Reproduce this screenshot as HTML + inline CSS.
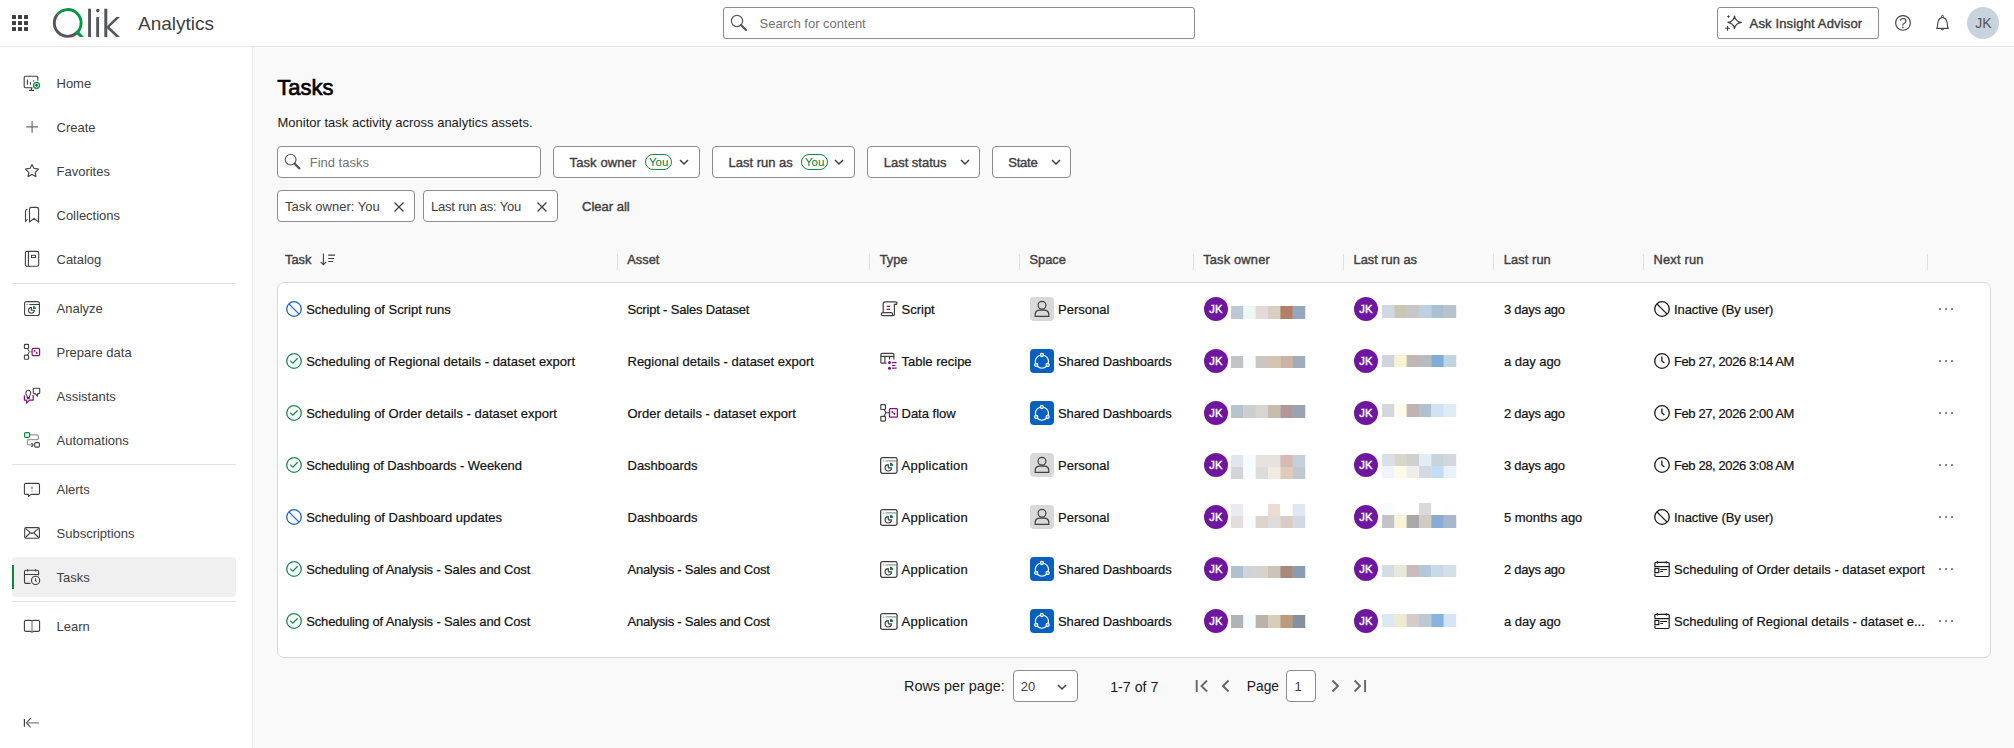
<!DOCTYPE html>
<html><head><meta charset="utf-8"><style>
html,body{margin:0;padding:0;width:2014px;height:748px;overflow:hidden;background:#f9f9f9;}
body{font-family:"Liberation Sans", sans-serif;position:relative;}
.a{position:absolute;box-sizing:content-box;}
.t{position:absolute;white-space:nowrap;}
.d{-webkit-text-stroke:0.2px currentColor;}
.sb{-webkit-text-stroke:0.4px currentColor;}
.sbt{-webkit-text-stroke:0.65px currentColor;}
svg.a{overflow:visible;}
</style></head><body>
<div class="a" style="left:0px;top:0px;width:2014px;height:46px;background:#fff;"></div>
<div class="a" style="left:0px;top:46px;width:2014px;height:1px;background:#e6e6e6;"></div>
<svg class="a" style="left:0px;top:0px;" width="40" height="46" viewBox="0 0 40 46"><rect x="12" y="15" width="4" height="4" rx="0.5" fill="#404040"/><rect x="12" y="21" width="4" height="4" rx="0.5" fill="#404040"/><rect x="12" y="27" width="4" height="4" rx="0.5" fill="#404040"/><rect x="18" y="15" width="4" height="4" rx="0.5" fill="#404040"/><rect x="18" y="21" width="4" height="4" rx="0.5" fill="#404040"/><rect x="18" y="27" width="4" height="4" rx="0.5" fill="#404040"/><rect x="24" y="15" width="4" height="4" rx="0.5" fill="#404040"/><rect x="24" y="21" width="4" height="4" rx="0.5" fill="#404040"/><rect x="24" y="27" width="4" height="4" rx="0.5" fill="#404040"/></svg>
<svg class="a" style="left:0px;top:0px;" width="130" height="46" viewBox="0 0 130 46">
<path d="M57.4 14.4 A13.4 13.4 0 0 0 76.7 32.9" fill="none" stroke="#54565b" stroke-width="2.9"/>
<path d="M57.4 14.4 A13.4 13.4 0 1 1 76.7 32.9" fill="none" stroke="#009845" stroke-width="2.9"/>
<path d="M74.6 32.4 L77.4 29.9 L83.9 37.1 L79.9 37.1 Z" fill="#009845"/>
<rect x="88.1" y="8.7" width="2.9" height="28.4" fill="#54565b"/>
<rect x="96.2" y="17.1" width="2.9" height="20" fill="#54565b"/>
<circle cx="97.8" cy="10.6" r="1.8" fill="#54565b"/>
<rect x="104.3" y="8.7" width="3" height="28.4" fill="#54565b"/>
<path d="M107 26.2 L116.3 17.1 L120 17.1 L109.5 27 L120 37.1 L116.2 37.1 L107 28.2 Z" fill="#54565b"/>
</svg>
<div class="t " style="left:138px;top:11.02px;font-size:19px;line-height:25px;color:#404040;">Analytics</div>
<div class="a" style="left:723px;top:7px;width:470px;height:30px;border:1px solid #8c8c8c;border-radius:3px;background:#fff;"></div>
<svg class="a" style="left:729px;top:13px;" width="20" height="20" viewBox="0 0 20 20"><circle cx="8" cy="8" r="5.6" fill="none" stroke="#595959" stroke-width="1.2"/><path d="M12 12 L17 17" stroke="#595959" stroke-width="2.2" stroke-linecap="round"/></svg>
<div class="t " style="left:759.5px;top:15.30px;font-size:13px;line-height:17px;color:#737373;">Search for content</div>
<div class="a" style="left:1717px;top:7px;width:160px;height:30px;border:1px solid #8c8c8c;border-radius:3px;background:#fff;"></div>
<svg class="a" style="left:1723px;top:12px;" width="22" height="22" viewBox="0 0 22 22"><path d="M11.5 4.1 Q12.4 9.5 18.4 10.4 Q12.4 11.3 11.5 16.6 Q10.6 11.3 4.9 10.4 Q10.6 9.5 11.5 4.1 Z" fill="none" stroke="#404040" stroke-width="1.15" stroke-linejoin="round"/><path d="M5.5 3 L6.1 4 L7.1 4.6 L6.1 5.2 L5.5 6.2 L4.9 5.2 L3.9 4.6 L4.9 4 Z" fill="#404040"/><path d="M4.6 13.9 V18.7 M2.2 16.3 H7" stroke="#404040" stroke-width="1.1"/></svg>
<div class="t sb" style="left:1749.6px;top:14.90px;font-size:13px;line-height:17px;color:#404040;letter-spacing:0.15px;">Ask Insight Advisor</div>
<svg class="a" style="left:1893px;top:13px;" width="20" height="20" viewBox="0 0 20 20"><circle cx="10" cy="9.9" r="7.35" fill="none" stroke="#404040" stroke-width="1.15"/><path d="M7.1 7.4 Q8 5.5 10.2 5.5 Q12.9 5.6 12.9 7.9 Q12.9 9.6 11 10.5 Q9.7 11.1 9.7 12.5" fill="none" stroke="#404040" stroke-width="1.2"/><circle cx="9.8" cy="14.3" r="0.85" fill="#404040"/></svg>
<svg class="a" style="left:1933px;top:13px;" width="20" height="20" viewBox="0 0 20 20"><circle cx="9.5" cy="3.4" r="1" fill="none" stroke="#404040" stroke-width="1"/><path d="M4.2 15 Q4.6 9.5 5.5 7.4 Q6.9 4.5 9.5 4.5 Q12.1 4.5 13.5 7.4 Q14.4 9.5 14.8 15" fill="none" stroke="#404040" stroke-width="1.1"/><path d="M3.2 15.4 H15.8" stroke="#404040" stroke-width="1.2"/><path d="M8.4 15.8 A1.1 1.1 0 0 0 10.6 15.8" fill="none" stroke="#404040" stroke-width="1"/></svg>
<div class="a" style="left:1967px;top:7px;width:32px;height:32px;border-radius:50%;background:#c9d3de;"></div>
<div class="t " style="left:1975.2px;top:14.37px;font-size:14px;line-height:18px;color:#555;">JK</div>
<div class="a" style="left:0px;top:47px;width:252px;height:701px;background:#fff;"></div>
<div class="a" style="left:252px;top:47px;width:1px;height:701px;background:#e6e6e6;"></div>
<div class="a" style="left:12px;top:557px;width:224px;height:40px;background:#f0f0f0;border-radius:4px;"></div>
<div class="a" style="left:12px;top:565px;width:2px;height:24px;background:#0a8a3e;"></div>
<div class="a" style="left:12px;top:283px;width:224px;height:1px;background:#e3e3e3;"></div>
<div class="a" style="left:12px;top:464px;width:224px;height:1px;background:#e3e3e3;"></div>
<div class="a" style="left:12px;top:601px;width:224px;height:1px;background:#e3e3e3;"></div>
<div class="t " style="left:56.5px;top:75.20px;font-size:13px;line-height:17px;color:#404040;">Home</div>
<div class="t " style="left:56.5px;top:119.20px;font-size:13px;line-height:17px;color:#404040;">Create</div>
<div class="t " style="left:56.5px;top:163.20px;font-size:13px;line-height:17px;color:#404040;">Favorites</div>
<div class="t " style="left:56.5px;top:207.20px;font-size:13px;line-height:17px;color:#404040;">Collections</div>
<div class="t " style="left:56.5px;top:251.20px;font-size:13px;line-height:17px;color:#404040;">Catalog</div>
<div class="t " style="left:56.5px;top:300.20px;font-size:13px;line-height:17px;color:#404040;">Analyze</div>
<div class="t " style="left:56.5px;top:344.20px;font-size:13px;line-height:17px;color:#404040;">Prepare data</div>
<div class="t " style="left:56.5px;top:388.20px;font-size:13px;line-height:17px;color:#404040;">Assistants</div>
<div class="t " style="left:56.5px;top:432.20px;font-size:13px;line-height:17px;color:#404040;">Automations</div>
<div class="t " style="left:56.5px;top:481.20px;font-size:13px;line-height:17px;color:#404040;">Alerts</div>
<div class="t " style="left:56.5px;top:525.20px;font-size:13px;line-height:17px;color:#404040;">Subscriptions</div>
<div class="t " style="left:56.5px;top:569.20px;font-size:13px;line-height:17px;color:#404040;">Tasks</div>
<div class="t " style="left:56.5px;top:618.20px;font-size:13px;line-height:17px;color:#404040;">Learn</div>
<div class="a" style="left:253px;top:47px;width:1761px;height:701px;background:#f9f9f9;"></div>
<div class="t sbt" style="left:277.2px;top:73.13px;font-size:22px;line-height:29px;color:#000;">Tasks</div>
<div class="t " style="left:277.5px;top:113.80px;font-size:13px;line-height:17px;color:#1a1a1a;">Monitor task activity across analytics assets.</div>
<div class="a" style="left:277px;top:146px;width:262px;height:30px;border:1px solid #8c8c8c;border-radius:4px;background:#fff;"></div>
<div class="t " style="left:309.7px;top:153.90px;font-size:13px;line-height:17px;color:#737373;">Find tasks</div>
<div class="a" style="left:553px;top:146px;width:145px;height:30px;border:1px solid #8c8c8c;border-radius:4px;background:#fff;"></div>
<div class="t sb" style="left:569.6px;top:153.90px;font-size:13px;line-height:17px;color:#404040;letter-spacing:0.1px;">Task owner</div>
<div class="a" style="left:645px;top:154px;width:25px;height:14px;border:1px solid #0a8a3e;border-radius:8px;"></div>
<div class="t " style="left:649px;top:155.00px;font-size:11.5px;line-height:15px;color:#0b7d3a;">You</div>
<svg class="a" style="left:679px;top:159px;" width="10" height="6" viewBox="0 0 10 6"><path d="M1 1 L5 5 L9 1" fill="none" stroke="#404040" stroke-width="1.5"/></svg>
<div class="a" style="left:712px;top:146px;width:141px;height:30px;border:1px solid #8c8c8c;border-radius:4px;background:#fff;"></div>
<div class="t sb" style="left:728.5px;top:153.90px;font-size:13px;line-height:17px;color:#404040;">Last run as</div>
<div class="a" style="left:801px;top:154px;width:25px;height:14px;border:1px solid #0a8a3e;border-radius:8px;"></div>
<div class="t " style="left:805px;top:155.00px;font-size:11.5px;line-height:15px;color:#0b7d3a;">You</div>
<svg class="a" style="left:834px;top:159px;" width="10" height="6" viewBox="0 0 10 6"><path d="M1 1 L5 5 L9 1" fill="none" stroke="#404040" stroke-width="1.5"/></svg>
<div class="a" style="left:867px;top:146px;width:111px;height:30px;border:1px solid #8c8c8c;border-radius:4px;background:#fff;"></div>
<div class="t sb" style="left:883.7px;top:153.90px;font-size:13px;line-height:17px;color:#404040;">Last status</div>
<svg class="a" style="left:959.5px;top:159px;" width="10" height="6" viewBox="0 0 10 6"><path d="M1 1 L5 5 L9 1" fill="none" stroke="#404040" stroke-width="1.5"/></svg>
<div class="a" style="left:992px;top:146px;width:77px;height:30px;border:1px solid #8c8c8c;border-radius:4px;background:#fff;"></div>
<div class="t sb" style="left:1008.2px;top:153.90px;font-size:13px;line-height:17px;color:#404040;letter-spacing:-0.2px;">State</div>
<svg class="a" style="left:1050.5px;top:159px;" width="10" height="6" viewBox="0 0 10 6"><path d="M1 1 L5 5 L9 1" fill="none" stroke="#404040" stroke-width="1.5"/></svg>
<div class="a" style="left:277px;top:190px;width:136px;height:30px;border:1px solid #8c8c8c;border-radius:4px;background:#fff;"></div>
<div class="t " style="left:285px;top:198.00px;font-size:13px;line-height:17px;color:#404040;">Task owner: You</div>
<svg class="a" style="left:393px;top:201px;" width="12" height="12" viewBox="0 0 12 12"><path d="M1.5 1.5 L10.5 10.5 M10.5 1.5 L1.5 10.5" stroke="#404040" stroke-width="1.3"/></svg>
<div class="a" style="left:423px;top:190px;width:133px;height:30px;border:1px solid #8c8c8c;border-radius:4px;background:#fff;"></div>
<div class="t " style="left:431px;top:198.00px;font-size:13px;line-height:17px;color:#404040;letter-spacing:-0.2px;">Last run as: You</div>
<svg class="a" style="left:536px;top:201px;" width="12" height="12" viewBox="0 0 12 12"><path d="M1.5 1.5 L10.5 10.5 M10.5 1.5 L1.5 10.5" stroke="#404040" stroke-width="1.3"/></svg>
<div class="t sb" style="left:582px;top:198.00px;font-size:13px;line-height:17px;color:#404040;">Clear all</div>
<div class="t sb" style="left:285px;top:251.17px;font-size:12.8px;line-height:17px;color:#404040;">Task</div>
<div class="t sb" style="left:627.3px;top:251.17px;font-size:12.8px;line-height:17px;color:#404040;">Asset</div>
<div class="t sb" style="left:879.7px;top:251.17px;font-size:12.8px;line-height:17px;color:#404040;">Type</div>
<div class="t sb" style="left:1029.5px;top:251.17px;font-size:12.8px;line-height:17px;color:#404040;">Space</div>
<div class="t sb" style="left:1203.2px;top:251.17px;font-size:12.8px;line-height:17px;color:#404040;letter-spacing:0.2px;">Task owner</div>
<div class="t sb" style="left:1353.6px;top:251.17px;font-size:12.8px;line-height:17px;color:#404040;">Last run as</div>
<div class="t sb" style="left:1503.8px;top:251.17px;font-size:12.8px;line-height:17px;color:#404040;letter-spacing:0.1px;">Last run</div>
<div class="t sb" style="left:1653.6px;top:251.17px;font-size:12.8px;line-height:17px;color:#404040;letter-spacing:0.2px;">Next run</div>
<div class="a" style="left:617px;top:254px;width:1px;height:16px;background:#e0e0e0;"></div>
<div class="a" style="left:869px;top:254px;width:1px;height:16px;background:#e0e0e0;"></div>
<div class="a" style="left:1019px;top:254px;width:1px;height:16px;background:#e0e0e0;"></div>
<div class="a" style="left:1193px;top:254px;width:1px;height:16px;background:#e0e0e0;"></div>
<div class="a" style="left:1343px;top:254px;width:1px;height:16px;background:#e0e0e0;"></div>
<div class="a" style="left:1493px;top:254px;width:1px;height:16px;background:#e0e0e0;"></div>
<div class="a" style="left:1643px;top:254px;width:1px;height:16px;background:#e0e0e0;"></div>
<div class="a" style="left:1927px;top:254px;width:1px;height:16px;background:#e0e0e0;"></div>
<svg class="a" style="left:318px;top:252px;" width="20" height="16" viewBox="0 0 20 16"><path d="M5.4 1.5 V12.6 M2.6 9.8 L5.4 12.6 L8.2 9.8" fill="none" stroke="#404040" stroke-width="1.1"/><path d="M10.2 3.1 h6.8 M10.2 6.5 h6 M10.2 9.5 h4.8" stroke="#404040" stroke-width="1.1"/></svg>
<div class="a" style="left:277px;top:282px;width:1712px;height:374px;border:1px solid #d9d9d9;border-radius:7px;background:#fff;"></div>
<svg class="a" style="left:286px;top:301px;" width="16" height="16" viewBox="0 0 16 16"><circle cx="8" cy="8" r="7.3" fill="none" stroke="#1f63c6" stroke-width="1.3"/><path d="M2.9 2.9 L13.1 13.1" stroke="#1f63c6" stroke-width="1.3"/></svg>
<div class="t d" style="left:306.2px;top:301.20px;font-size:13px;line-height:17px;color:#111;">Scheduling of Script runs</div>
<div class="t d" style="left:627.5px;top:301.20px;font-size:13px;line-height:17px;color:#111;letter-spacing:-0.18px;">Script - Sales Dataset</div>
<svg class="a" style="left:880px;top:300px;" width="18" height="18" viewBox="0 0 18 18"><path d="M3.2 12.7 V3.8 Q3.2 1.9 5 1.9 H15.3 Q17.3 1.9 17 3.3 Q16.7 4.4 14.4 4.4 V14.8 Q14.4 15.6 13 15.6 H3.5 Q1.3 15.6 1.3 14.2 Q1.3 12.7 3.2 12.7 H11.5 Q12.4 12.7 12.5 14.2 Q12.7 15.4 13.5 15.6" fill="none" stroke="#404040" stroke-width="1.2" stroke-linejoin="round"/><path d="M14.4 4.4 H17.2" stroke="#404040" stroke-width="1.1"/><path d="M6.7 6.4 H10.2 M6.7 9.4 H10.2" stroke="#8a0c7a" stroke-width="1.3"/></svg>
<div class="t d" style="left:901.5px;top:301.20px;font-size:13px;line-height:17px;color:#111;">Script</div>
<svg class="a" style="left:1030px;top:297px;" width="24" height="24" viewBox="0 0 24 24"><rect x="0" y="0" width="24" height="24" rx="4" fill="#d9d9d9"/><circle cx="12" cy="8.2" r="3.9" fill="none" stroke="#404040" stroke-width="1.2"/><path d="M5.2 19.4 V17.6 Q5.2 13.1 10 13.1 H14 Q18.8 13.1 18.8 17.6 V19.4 Z" fill="none" stroke="#404040" stroke-width="1.2"/></svg>
<div class="t d" style="left:1058px;top:301.20px;font-size:13px;line-height:17px;color:#111;">Personal</div>
<div class="a" style="left:1204px;top:297px;width:24px;height:24px;border-radius:50%;background:#6f16a0;"></div>
<div class="t sb" style="left:1209.3px;top:301.60px;font-size:11.2px;line-height:15px;color:#fff;letter-spacing:0.2px;">JK</div>
<div class="a" style="left:1354px;top:297px;width:24px;height:24px;border-radius:50%;background:#6f16a0;"></div>
<div class="t sb" style="left:1359.3px;top:301.60px;font-size:11.2px;line-height:15px;color:#fff;letter-spacing:0.2px;">JK</div>
<div class="t d" style="left:1504.1px;top:301.20px;font-size:13px;line-height:17px;color:#111;letter-spacing:-0.3px;">3 days ago</div>
<svg class="a" style="left:1654px;top:301px;" width="16" height="16" viewBox="0 0 16 16"><circle cx="8" cy="8" r="7.3" fill="none" stroke="#1a1a1a" stroke-width="1.3"/><path d="M2.9 2.9 L13.1 13.1" stroke="#1a1a1a" stroke-width="1.3"/></svg>
<div class="t d" style="left:1674px;top:301.20px;font-size:13px;line-height:17px;color:#111;letter-spacing:-0.1px;">Inactive (By user)</div>
<svg class="a" style="left:1938px;top:308px;" width="16" height="3" viewBox="0 0 16 3"><rect x="1" y="0" width="2" height="2" fill="#8a8a8a"/><rect x="7" y="0" width="2" height="2" fill="#8a8a8a"/><rect x="13" y="0" width="2" height="2" fill="#8a8a8a"/></svg>
<svg class="a" style="left:286px;top:353px;" width="16" height="16" viewBox="0 0 16 16"><circle cx="8" cy="8" r="7.3" fill="none" stroke="#1a8c4a" stroke-width="1.3"/><path d="M4.2 7.7 L6.9 10.2 L11.7 5.3" fill="none" stroke="#1a8c4a" stroke-width="1.3"/></svg>
<div class="t d" style="left:306.2px;top:353.20px;font-size:13px;line-height:17px;color:#111;">Scheduling of Regional details - dataset export</div>
<div class="t d" style="left:627.5px;top:353.20px;font-size:13px;line-height:17px;color:#111;">Regional details - dataset export</div>
<svg class="a" style="left:880px;top:352px;" width="18" height="18" viewBox="0 0 18 18"><path d="M6.5 11.1 H1.5 Q0.9 11.1 0.9 10.4 V2.4 Q0.9 1.3 2 1.3 H12.7 Q13.9 1.3 13.9 2.4 V7.5" fill="none" stroke="#404040" stroke-width="1.2"/><path d="M0.9 4.4 H13.9 M4.9 4.4 V11 M9.5 4.4 V7.5" stroke="#404040" stroke-width="1.2"/><circle cx="9.5" cy="10.6" r="1.5" fill="#8a0c7a"/><circle cx="9.5" cy="16.2" r="1.5" fill="#8a0c7a"/><path d="M12 10.6 H16.6 M12 13.5 H15.5 M12 16.2 H16.6" stroke="#8a0c7a" stroke-width="1.2"/></svg>
<div class="t d" style="left:901.5px;top:353.20px;font-size:13px;line-height:17px;color:#111;">Table recipe</div>
<svg class="a" style="left:1030px;top:349px;" width="24" height="24" viewBox="0 0 24 24"><rect x="0" y="0" width="24" height="24" rx="4" fill="#0660c0"/><circle cx="11.9" cy="12.6" r="6.6" fill="none" stroke="#fff" stroke-width="1.15"/><circle cx="11.9" cy="6" r="1.6" fill="#6f9bd6" stroke="#fff" stroke-width="1.1"/><circle cx="6.2" cy="15.9" r="1.6" fill="#6f9bd6" stroke="#fff" stroke-width="1.1"/><circle cx="17.6" cy="15.9" r="1.6" fill="#6f9bd6" stroke="#fff" stroke-width="1.1"/></svg>
<div class="t d" style="left:1058px;top:353.20px;font-size:13px;line-height:17px;color:#111;letter-spacing:-0.12px;">Shared Dashboards</div>
<div class="a" style="left:1204px;top:349px;width:24px;height:24px;border-radius:50%;background:#6f16a0;"></div>
<div class="t sb" style="left:1209.3px;top:353.60px;font-size:11.2px;line-height:15px;color:#fff;letter-spacing:0.2px;">JK</div>
<div class="a" style="left:1354px;top:349px;width:24px;height:24px;border-radius:50%;background:#6f16a0;"></div>
<div class="t sb" style="left:1359.3px;top:353.60px;font-size:11.2px;line-height:15px;color:#fff;letter-spacing:0.2px;">JK</div>
<div class="t d" style="left:1504.1px;top:353.20px;font-size:13px;line-height:17px;color:#111;letter-spacing:-0.05px;">a day ago</div>
<svg class="a" style="left:1654px;top:353px;" width="16" height="16" viewBox="0 0 16 16"><circle cx="8" cy="8" r="7.3" fill="none" stroke="#1a1a1a" stroke-width="1.3"/><path d="M7.9 3.6 V8 L10.4 10.1" fill="none" stroke="#1a1a1a" stroke-width="1.3"/></svg>
<div class="t d" style="left:1674px;top:353.20px;font-size:13px;line-height:17px;color:#111;letter-spacing:-0.4px;">Feb 27, 2026 8:14 AM</div>
<svg class="a" style="left:1938px;top:360px;" width="16" height="3" viewBox="0 0 16 3"><rect x="1" y="0" width="2" height="2" fill="#8a8a8a"/><rect x="7" y="0" width="2" height="2" fill="#8a8a8a"/><rect x="13" y="0" width="2" height="2" fill="#8a8a8a"/></svg>
<svg class="a" style="left:286px;top:405px;" width="16" height="16" viewBox="0 0 16 16"><circle cx="8" cy="8" r="7.3" fill="none" stroke="#1a8c4a" stroke-width="1.3"/><path d="M4.2 7.7 L6.9 10.2 L11.7 5.3" fill="none" stroke="#1a8c4a" stroke-width="1.3"/></svg>
<div class="t d" style="left:306.2px;top:405.20px;font-size:13px;line-height:17px;color:#111;">Scheduling of Order details - dataset export</div>
<div class="t d" style="left:627.5px;top:405.20px;font-size:13px;line-height:17px;color:#111;">Order details - dataset export</div>
<svg class="a" style="left:880px;top:404px;" width="18" height="18" viewBox="0 0 18 18"><rect x="0.8" y="0.7" width="4.6" height="4.8" rx="0.8" fill="none" stroke="#404040" stroke-width="1.2"/><rect x="0.8" y="12.3" width="4.6" height="4.8" rx="0.8" fill="none" stroke="#404040" stroke-width="1.2"/><path d="M4.3 5.5 L5.8 8.7 L4.3 12.3 M5.8 8.7 H9.2" fill="none" stroke="#404040" stroke-width="1.1"/><rect x="9.5" y="4.7" width="7.9" height="8.4" rx="0.9" fill="none" stroke="#8a0c7a" stroke-width="1.3"/><circle cx="12.2" cy="7.9" r="0.9" fill="#8a0c7a"/><circle cx="14.4" cy="9.9" r="0.9" fill="#8a0c7a"/><path d="M12.2 7.9 L14.4 9.9" stroke="#8a0c7a" stroke-width="0.8"/></svg>
<div class="t d" style="left:901.5px;top:405.20px;font-size:13px;line-height:17px;color:#111;">Data flow</div>
<svg class="a" style="left:1030px;top:401px;" width="24" height="24" viewBox="0 0 24 24"><rect x="0" y="0" width="24" height="24" rx="4" fill="#0660c0"/><circle cx="11.9" cy="12.6" r="6.6" fill="none" stroke="#fff" stroke-width="1.15"/><circle cx="11.9" cy="6" r="1.6" fill="#6f9bd6" stroke="#fff" stroke-width="1.1"/><circle cx="6.2" cy="15.9" r="1.6" fill="#6f9bd6" stroke="#fff" stroke-width="1.1"/><circle cx="17.6" cy="15.9" r="1.6" fill="#6f9bd6" stroke="#fff" stroke-width="1.1"/></svg>
<div class="t d" style="left:1058px;top:405.20px;font-size:13px;line-height:17px;color:#111;letter-spacing:-0.12px;">Shared Dashboards</div>
<div class="a" style="left:1204px;top:401px;width:24px;height:24px;border-radius:50%;background:#6f16a0;"></div>
<div class="t sb" style="left:1209.3px;top:405.60px;font-size:11.2px;line-height:15px;color:#fff;letter-spacing:0.2px;">JK</div>
<div class="a" style="left:1354px;top:401px;width:24px;height:24px;border-radius:50%;background:#6f16a0;"></div>
<div class="t sb" style="left:1359.3px;top:405.60px;font-size:11.2px;line-height:15px;color:#fff;letter-spacing:0.2px;">JK</div>
<div class="t d" style="left:1504.1px;top:405.20px;font-size:13px;line-height:17px;color:#111;letter-spacing:-0.3px;">2 days ago</div>
<svg class="a" style="left:1654px;top:405px;" width="16" height="16" viewBox="0 0 16 16"><circle cx="8" cy="8" r="7.3" fill="none" stroke="#1a1a1a" stroke-width="1.3"/><path d="M7.9 3.6 V8 L10.4 10.1" fill="none" stroke="#1a1a1a" stroke-width="1.3"/></svg>
<div class="t d" style="left:1674px;top:405.20px;font-size:13px;line-height:17px;color:#111;letter-spacing:-0.4px;">Feb 27, 2026 2:00 AM</div>
<svg class="a" style="left:1938px;top:412px;" width="16" height="3" viewBox="0 0 16 3"><rect x="1" y="0" width="2" height="2" fill="#8a8a8a"/><rect x="7" y="0" width="2" height="2" fill="#8a8a8a"/><rect x="13" y="0" width="2" height="2" fill="#8a8a8a"/></svg>
<svg class="a" style="left:286px;top:457px;" width="16" height="16" viewBox="0 0 16 16"><circle cx="8" cy="8" r="7.3" fill="none" stroke="#1a8c4a" stroke-width="1.3"/><path d="M4.2 7.7 L6.9 10.2 L11.7 5.3" fill="none" stroke="#1a8c4a" stroke-width="1.3"/></svg>
<div class="t d" style="left:306.2px;top:457.20px;font-size:13px;line-height:17px;color:#111;letter-spacing:-0.09px;">Scheduling of Dashboards - Weekend</div>
<div class="t d" style="left:627.5px;top:457.20px;font-size:13px;line-height:17px;color:#111;">Dashboards</div>
<svg class="a" style="left:880px;top:457px;" width="18" height="18" viewBox="0 0 18 18"><rect x="0.65" y="0.65" width="16.4" height="15.7" rx="1.8" fill="none" stroke="#404040" stroke-width="1.3"/><path d="M5.5 3.9 H16.8" stroke="#8a8a8a" stroke-width="1.1"/><circle cx="3.3" cy="3.9" r="0.6" fill="#8a8a8a"/><path d="M8.3 7.6 A3.2 3.2 0 1 0 11.5 10.8 L8.3 10.8 Z" fill="none" stroke="#404040" stroke-width="1.2" stroke-linejoin="round"/><path d="M10 5.7 A3.2 3.2 0 0 1 13.2 8.9 L10 8.9 Z" fill="#0a8a3e"/></svg>
<div class="t d" style="left:901.5px;top:457.20px;font-size:13px;line-height:17px;color:#111;letter-spacing:0.27px;">Application</div>
<svg class="a" style="left:1030px;top:453px;" width="24" height="24" viewBox="0 0 24 24"><rect x="0" y="0" width="24" height="24" rx="4" fill="#d9d9d9"/><circle cx="12" cy="8.2" r="3.9" fill="none" stroke="#404040" stroke-width="1.2"/><path d="M5.2 19.4 V17.6 Q5.2 13.1 10 13.1 H14 Q18.8 13.1 18.8 17.6 V19.4 Z" fill="none" stroke="#404040" stroke-width="1.2"/></svg>
<div class="t d" style="left:1058px;top:457.20px;font-size:13px;line-height:17px;color:#111;">Personal</div>
<div class="a" style="left:1204px;top:453px;width:24px;height:24px;border-radius:50%;background:#6f16a0;"></div>
<div class="t sb" style="left:1209.3px;top:457.60px;font-size:11.2px;line-height:15px;color:#fff;letter-spacing:0.2px;">JK</div>
<div class="a" style="left:1354px;top:453px;width:24px;height:24px;border-radius:50%;background:#6f16a0;"></div>
<div class="t sb" style="left:1359.3px;top:457.60px;font-size:11.2px;line-height:15px;color:#fff;letter-spacing:0.2px;">JK</div>
<div class="t d" style="left:1504.1px;top:457.20px;font-size:13px;line-height:17px;color:#111;letter-spacing:-0.3px;">3 days ago</div>
<svg class="a" style="left:1654px;top:457px;" width="16" height="16" viewBox="0 0 16 16"><circle cx="8" cy="8" r="7.3" fill="none" stroke="#1a1a1a" stroke-width="1.3"/><path d="M7.9 3.6 V8 L10.4 10.1" fill="none" stroke="#1a1a1a" stroke-width="1.3"/></svg>
<div class="t d" style="left:1674px;top:457.20px;font-size:13px;line-height:17px;color:#111;letter-spacing:-0.4px;">Feb 28, 2026 3:08 AM</div>
<svg class="a" style="left:1938px;top:464px;" width="16" height="3" viewBox="0 0 16 3"><rect x="1" y="0" width="2" height="2" fill="#8a8a8a"/><rect x="7" y="0" width="2" height="2" fill="#8a8a8a"/><rect x="13" y="0" width="2" height="2" fill="#8a8a8a"/></svg>
<svg class="a" style="left:286px;top:509px;" width="16" height="16" viewBox="0 0 16 16"><circle cx="8" cy="8" r="7.3" fill="none" stroke="#1f63c6" stroke-width="1.3"/><path d="M2.9 2.9 L13.1 13.1" stroke="#1f63c6" stroke-width="1.3"/></svg>
<div class="t d" style="left:306.2px;top:509.20px;font-size:13px;line-height:17px;color:#111;">Scheduling of Dashboard updates</div>
<div class="t d" style="left:627.5px;top:509.20px;font-size:13px;line-height:17px;color:#111;">Dashboards</div>
<svg class="a" style="left:880px;top:509px;" width="18" height="18" viewBox="0 0 18 18"><rect x="0.65" y="0.65" width="16.4" height="15.7" rx="1.8" fill="none" stroke="#404040" stroke-width="1.3"/><path d="M5.5 3.9 H16.8" stroke="#8a8a8a" stroke-width="1.1"/><circle cx="3.3" cy="3.9" r="0.6" fill="#8a8a8a"/><path d="M8.3 7.6 A3.2 3.2 0 1 0 11.5 10.8 L8.3 10.8 Z" fill="none" stroke="#404040" stroke-width="1.2" stroke-linejoin="round"/><path d="M10 5.7 A3.2 3.2 0 0 1 13.2 8.9 L10 8.9 Z" fill="#0a8a3e"/></svg>
<div class="t d" style="left:901.5px;top:509.20px;font-size:13px;line-height:17px;color:#111;letter-spacing:0.27px;">Application</div>
<svg class="a" style="left:1030px;top:505px;" width="24" height="24" viewBox="0 0 24 24"><rect x="0" y="0" width="24" height="24" rx="4" fill="#d9d9d9"/><circle cx="12" cy="8.2" r="3.9" fill="none" stroke="#404040" stroke-width="1.2"/><path d="M5.2 19.4 V17.6 Q5.2 13.1 10 13.1 H14 Q18.8 13.1 18.8 17.6 V19.4 Z" fill="none" stroke="#404040" stroke-width="1.2"/></svg>
<div class="t d" style="left:1058px;top:509.20px;font-size:13px;line-height:17px;color:#111;">Personal</div>
<div class="a" style="left:1204px;top:505px;width:24px;height:24px;border-radius:50%;background:#6f16a0;"></div>
<div class="t sb" style="left:1209.3px;top:509.60px;font-size:11.2px;line-height:15px;color:#fff;letter-spacing:0.2px;">JK</div>
<div class="a" style="left:1354px;top:505px;width:24px;height:24px;border-radius:50%;background:#6f16a0;"></div>
<div class="t sb" style="left:1359.3px;top:509.60px;font-size:11.2px;line-height:15px;color:#fff;letter-spacing:0.2px;">JK</div>
<div class="t d" style="left:1504.1px;top:509.20px;font-size:13px;line-height:17px;color:#111;letter-spacing:-0.05px;">5 months ago</div>
<svg class="a" style="left:1654px;top:509px;" width="16" height="16" viewBox="0 0 16 16"><circle cx="8" cy="8" r="7.3" fill="none" stroke="#1a1a1a" stroke-width="1.3"/><path d="M2.9 2.9 L13.1 13.1" stroke="#1a1a1a" stroke-width="1.3"/></svg>
<div class="t d" style="left:1674px;top:509.20px;font-size:13px;line-height:17px;color:#111;letter-spacing:-0.1px;">Inactive (By user)</div>
<svg class="a" style="left:1938px;top:516px;" width="16" height="3" viewBox="0 0 16 3"><rect x="1" y="0" width="2" height="2" fill="#8a8a8a"/><rect x="7" y="0" width="2" height="2" fill="#8a8a8a"/><rect x="13" y="0" width="2" height="2" fill="#8a8a8a"/></svg>
<svg class="a" style="left:286px;top:561px;" width="16" height="16" viewBox="0 0 16 16"><circle cx="8" cy="8" r="7.3" fill="none" stroke="#1a8c4a" stroke-width="1.3"/><path d="M4.2 7.7 L6.9 10.2 L11.7 5.3" fill="none" stroke="#1a8c4a" stroke-width="1.3"/></svg>
<div class="t d" style="left:306.2px;top:561.20px;font-size:13px;line-height:17px;color:#111;letter-spacing:-0.15px;">Scheduling of Analysis - Sales and Cost</div>
<div class="t d" style="left:627.5px;top:561.20px;font-size:13px;line-height:17px;color:#111;letter-spacing:-0.24px;">Analysis - Sales and Cost</div>
<svg class="a" style="left:880px;top:561px;" width="18" height="18" viewBox="0 0 18 18"><rect x="0.65" y="0.65" width="16.4" height="15.7" rx="1.8" fill="none" stroke="#404040" stroke-width="1.3"/><path d="M5.5 3.9 H16.8" stroke="#8a8a8a" stroke-width="1.1"/><circle cx="3.3" cy="3.9" r="0.6" fill="#8a8a8a"/><path d="M8.3 7.6 A3.2 3.2 0 1 0 11.5 10.8 L8.3 10.8 Z" fill="none" stroke="#404040" stroke-width="1.2" stroke-linejoin="round"/><path d="M10 5.7 A3.2 3.2 0 0 1 13.2 8.9 L10 8.9 Z" fill="#0a8a3e"/></svg>
<div class="t d" style="left:901.5px;top:561.20px;font-size:13px;line-height:17px;color:#111;letter-spacing:0.27px;">Application</div>
<svg class="a" style="left:1030px;top:557px;" width="24" height="24" viewBox="0 0 24 24"><rect x="0" y="0" width="24" height="24" rx="4" fill="#0660c0"/><circle cx="11.9" cy="12.6" r="6.6" fill="none" stroke="#fff" stroke-width="1.15"/><circle cx="11.9" cy="6" r="1.6" fill="#6f9bd6" stroke="#fff" stroke-width="1.1"/><circle cx="6.2" cy="15.9" r="1.6" fill="#6f9bd6" stroke="#fff" stroke-width="1.1"/><circle cx="17.6" cy="15.9" r="1.6" fill="#6f9bd6" stroke="#fff" stroke-width="1.1"/></svg>
<div class="t d" style="left:1058px;top:561.20px;font-size:13px;line-height:17px;color:#111;letter-spacing:-0.12px;">Shared Dashboards</div>
<div class="a" style="left:1204px;top:557px;width:24px;height:24px;border-radius:50%;background:#6f16a0;"></div>
<div class="t sb" style="left:1209.3px;top:561.60px;font-size:11.2px;line-height:15px;color:#fff;letter-spacing:0.2px;">JK</div>
<div class="a" style="left:1354px;top:557px;width:24px;height:24px;border-radius:50%;background:#6f16a0;"></div>
<div class="t sb" style="left:1359.3px;top:561.60px;font-size:11.2px;line-height:15px;color:#fff;letter-spacing:0.2px;">JK</div>
<div class="t d" style="left:1504.1px;top:561.20px;font-size:13px;line-height:17px;color:#111;letter-spacing:-0.3px;">2 days ago</div>
<svg class="a" style="left:1654px;top:561px;" width="16" height="16" viewBox="0 0 16 16"><path d="M0.9 6.2 V2.6 Q0.9 1.4 2.1 1.4 H14 Q15.2 1.4 15.2 2.6 V14.3 Q15.2 15.5 14 15.5 H2.1 Q0.9 15.5 0.9 14.3 V12.4" fill="none" stroke="#1a1a1a" stroke-width="1.2"/><path d="M0.9 5.6 H15.2" stroke="#1a1a1a" stroke-width="1.2"/><path d="M3.4 0.2 V2.6 M12.4 0.2 V2.6" stroke="#1a1a1a" stroke-width="1.2"/><rect x="0.9" y="7.5" width="3.9" height="4.1" fill="none" stroke="#1a1a1a" stroke-width="1.2"/><path d="M6.3 8.5 H12.9 M6.3 10.5 H8.9" stroke="#1a1a1a" stroke-width="1.2"/></svg>
<div class="t d" style="left:1674px;top:561.20px;font-size:13px;line-height:17px;color:#111;">Scheduling of Order details - dataset export</div>
<svg class="a" style="left:1938px;top:568px;" width="16" height="3" viewBox="0 0 16 3"><rect x="1" y="0" width="2" height="2" fill="#8a8a8a"/><rect x="7" y="0" width="2" height="2" fill="#8a8a8a"/><rect x="13" y="0" width="2" height="2" fill="#8a8a8a"/></svg>
<svg class="a" style="left:286px;top:613px;" width="16" height="16" viewBox="0 0 16 16"><circle cx="8" cy="8" r="7.3" fill="none" stroke="#1a8c4a" stroke-width="1.3"/><path d="M4.2 7.7 L6.9 10.2 L11.7 5.3" fill="none" stroke="#1a8c4a" stroke-width="1.3"/></svg>
<div class="t d" style="left:306.2px;top:613.20px;font-size:13px;line-height:17px;color:#111;letter-spacing:-0.15px;">Scheduling of Analysis - Sales and Cost</div>
<div class="t d" style="left:627.5px;top:613.20px;font-size:13px;line-height:17px;color:#111;letter-spacing:-0.24px;">Analysis - Sales and Cost</div>
<svg class="a" style="left:880px;top:613px;" width="18" height="18" viewBox="0 0 18 18"><rect x="0.65" y="0.65" width="16.4" height="15.7" rx="1.8" fill="none" stroke="#404040" stroke-width="1.3"/><path d="M5.5 3.9 H16.8" stroke="#8a8a8a" stroke-width="1.1"/><circle cx="3.3" cy="3.9" r="0.6" fill="#8a8a8a"/><path d="M8.3 7.6 A3.2 3.2 0 1 0 11.5 10.8 L8.3 10.8 Z" fill="none" stroke="#404040" stroke-width="1.2" stroke-linejoin="round"/><path d="M10 5.7 A3.2 3.2 0 0 1 13.2 8.9 L10 8.9 Z" fill="#0a8a3e"/></svg>
<div class="t d" style="left:901.5px;top:613.20px;font-size:13px;line-height:17px;color:#111;letter-spacing:0.27px;">Application</div>
<svg class="a" style="left:1030px;top:609px;" width="24" height="24" viewBox="0 0 24 24"><rect x="0" y="0" width="24" height="24" rx="4" fill="#0660c0"/><circle cx="11.9" cy="12.6" r="6.6" fill="none" stroke="#fff" stroke-width="1.15"/><circle cx="11.9" cy="6" r="1.6" fill="#6f9bd6" stroke="#fff" stroke-width="1.1"/><circle cx="6.2" cy="15.9" r="1.6" fill="#6f9bd6" stroke="#fff" stroke-width="1.1"/><circle cx="17.6" cy="15.9" r="1.6" fill="#6f9bd6" stroke="#fff" stroke-width="1.1"/></svg>
<div class="t d" style="left:1058px;top:613.20px;font-size:13px;line-height:17px;color:#111;letter-spacing:-0.12px;">Shared Dashboards</div>
<div class="a" style="left:1204px;top:609px;width:24px;height:24px;border-radius:50%;background:#6f16a0;"></div>
<div class="t sb" style="left:1209.3px;top:613.60px;font-size:11.2px;line-height:15px;color:#fff;letter-spacing:0.2px;">JK</div>
<div class="a" style="left:1354px;top:609px;width:24px;height:24px;border-radius:50%;background:#6f16a0;"></div>
<div class="t sb" style="left:1359.3px;top:613.60px;font-size:11.2px;line-height:15px;color:#fff;letter-spacing:0.2px;">JK</div>
<div class="t d" style="left:1504.1px;top:613.20px;font-size:13px;line-height:17px;color:#111;letter-spacing:-0.05px;">a day ago</div>
<svg class="a" style="left:1654px;top:613px;" width="16" height="16" viewBox="0 0 16 16"><path d="M0.9 6.2 V2.6 Q0.9 1.4 2.1 1.4 H14 Q15.2 1.4 15.2 2.6 V14.3 Q15.2 15.5 14 15.5 H2.1 Q0.9 15.5 0.9 14.3 V12.4" fill="none" stroke="#1a1a1a" stroke-width="1.2"/><path d="M0.9 5.6 H15.2" stroke="#1a1a1a" stroke-width="1.2"/><path d="M3.4 0.2 V2.6 M12.4 0.2 V2.6" stroke="#1a1a1a" stroke-width="1.2"/><rect x="0.9" y="7.5" width="3.9" height="4.1" fill="none" stroke="#1a1a1a" stroke-width="1.2"/><path d="M6.3 8.5 H12.9 M6.3 10.5 H8.9" stroke="#1a1a1a" stroke-width="1.2"/></svg>
<div class="t d" style="left:1674px;top:613.20px;font-size:13px;line-height:17px;color:#111;">Scheduling of Regional details - dataset e...</div>
<svg class="a" style="left:1938px;top:620px;" width="16" height="3" viewBox="0 0 16 3"><rect x="1" y="0" width="2" height="2" fill="#8a8a8a"/><rect x="7" y="0" width="2" height="2" fill="#8a8a8a"/><rect x="13" y="0" width="2" height="2" fill="#8a8a8a"/></svg>
<svg class="a" style="left:0px;top:0px;pointer-events:none;" width="2014" height="748" viewBox="0 0 2014 748"><rect x="1231.00" y="306" width="12.6" height="13" fill="#bcc8d6"/><rect x="1243.33" y="306" width="12.6" height="13" fill="#eef6f6"/><rect x="1255.66" y="306" width="12.6" height="13" fill="#e3d9d8"/><rect x="1267.99" y="306" width="12.6" height="13" fill="#d8cfc2"/><rect x="1280.32" y="306" width="12.6" height="13" fill="#b08068"/><rect x="1292.65" y="306" width="12.6" height="13" fill="#96a6c0"/><rect x="1382.00" y="305" width="12.6" height="13" fill="#d0d8e2"/><rect x="1394.33" y="305" width="12.6" height="13" fill="#c8c8b4"/><rect x="1406.66" y="305" width="12.6" height="13" fill="#c8c6c8"/><rect x="1418.99" y="305" width="12.6" height="13" fill="#bcd0e2"/><rect x="1431.32" y="305" width="12.6" height="13" fill="#a8c0d0"/><rect x="1443.65" y="305" width="12.6" height="13" fill="#b8c4cc"/><rect x="1231.00" y="356" width="12.6" height="12" fill="#c0c4c8"/><rect x="1243.33" y="356" width="12.6" height="12" fill="#f8fcfc"/><rect x="1255.66" y="356" width="12.6" height="12" fill="#ccc6c0"/><rect x="1267.99" y="356" width="12.6" height="12" fill="#d6c4b0"/><rect x="1280.32" y="356" width="12.6" height="12" fill="#cab4a4"/><rect x="1292.65" y="356" width="12.6" height="12" fill="#a0acbc"/><rect x="1382.00" y="355" width="12.6" height="12" fill="#d0d4de"/><rect x="1394.33" y="355" width="12.6" height="12" fill="#f8f4d0"/><rect x="1406.66" y="355" width="12.6" height="12" fill="#c0b8b4"/><rect x="1418.99" y="355" width="12.6" height="12" fill="#b8bcc0"/><rect x="1431.32" y="355" width="12.6" height="12" fill="#80acd8"/><rect x="1443.65" y="355" width="12.6" height="12" fill="#c0d4e4"/><rect x="1231.00" y="405" width="12.6" height="13" fill="#b8c4cc"/><rect x="1243.33" y="405" width="12.6" height="13" fill="#ccced0"/><rect x="1255.66" y="405" width="12.6" height="13" fill="#d8d4d0"/><rect x="1267.99" y="405" width="12.6" height="13" fill="#cabcac"/><rect x="1280.32" y="405" width="12.6" height="13" fill="#b09898"/><rect x="1292.65" y="405" width="12.6" height="13" fill="#98a4b0"/><rect x="1382.00" y="404" width="12.6" height="13" fill="#d4d8dc"/><rect x="1394.33" y="404" width="12.6" height="13" fill="#fefbe8"/><rect x="1406.66" y="404" width="12.6" height="13" fill="#c0b4b0"/><rect x="1418.99" y="404" width="12.6" height="13" fill="#b0c0d0"/><rect x="1431.32" y="404" width="12.6" height="13" fill="#d0e2f4"/><rect x="1443.65" y="404" width="12.6" height="13" fill="#e0ecf4"/><rect x="1231.00" y="455" width="12.6" height="12" fill="#e0e6ee"/><rect x="1243.33" y="455" width="12.6" height="12" fill="#f8fcfe"/><rect x="1255.66" y="455" width="12.6" height="12" fill="#e8e2de"/><rect x="1267.99" y="455" width="12.6" height="12" fill="#e6e2dc"/><rect x="1280.32" y="455" width="12.6" height="12" fill="#d4bcb4"/><rect x="1292.65" y="455" width="12.6" height="12" fill="#c6d0dc"/><rect x="1231.00" y="467" width="12.6" height="12" fill="#d2d4d8"/><rect x="1243.33" y="467" width="12.6" height="12" fill="#f8fcfe"/><rect x="1255.66" y="467" width="12.6" height="12" fill="#dcdcda"/><rect x="1267.99" y="467" width="12.6" height="12" fill="#f0ece2"/><rect x="1280.32" y="467" width="12.6" height="12" fill="#e0cab8"/><rect x="1292.65" y="467" width="12.6" height="12" fill="#c2c8d0"/><rect x="1382.00" y="454" width="12.6" height="12" fill="#dce0e4"/><rect x="1394.33" y="454" width="12.6" height="12" fill="#d8d8c8"/><rect x="1406.66" y="454" width="12.6" height="12" fill="#d0d0d0"/><rect x="1418.99" y="454" width="12.6" height="12" fill="#e4ecf4"/><rect x="1431.32" y="454" width="12.6" height="12" fill="#c8d4dc"/><rect x="1443.65" y="454" width="12.6" height="12" fill="#d4d8dc"/><rect x="1382.00" y="466" width="12.6" height="12" fill="#eef4fa"/><rect x="1394.33" y="466" width="12.6" height="12" fill="#fcfaea"/><rect x="1406.66" y="466" width="12.6" height="12" fill="#f0ece8"/><rect x="1418.99" y="466" width="12.6" height="12" fill="#d4dae4"/><rect x="1431.32" y="466" width="12.6" height="12" fill="#c4dcf4"/><rect x="1443.65" y="466" width="12.6" height="12" fill="#e8f2fa"/><rect x="1231.00" y="504" width="12.6" height="12" fill="#e8ecf0"/><rect x="1243.33" y="504" width="12.6" height="12" fill="#ffffff"/><rect x="1255.66" y="504" width="12.6" height="12" fill="#ffffff"/><rect x="1267.99" y="504" width="12.6" height="12" fill="#ecdcd2"/><rect x="1280.32" y="504" width="12.6" height="12" fill="#ffffff"/><rect x="1292.65" y="504" width="12.6" height="12" fill="#e2e6f2"/><rect x="1231.00" y="516" width="12.6" height="12" fill="#e2dedc"/><rect x="1243.33" y="516" width="12.6" height="12" fill="#f8fcfe"/><rect x="1255.66" y="516" width="12.6" height="12" fill="#dcd4cc"/><rect x="1267.99" y="516" width="12.6" height="12" fill="#e0dcda"/><rect x="1280.32" y="516" width="12.6" height="12" fill="#d8ccc8"/><rect x="1292.65" y="516" width="12.6" height="12" fill="#d4d8e0"/><rect x="1382.00" y="503" width="12.6" height="12" fill="#f8fcfe"/><rect x="1394.33" y="503" width="12.6" height="12" fill="#ffffff"/><rect x="1406.66" y="503" width="12.6" height="12" fill="#ffffff"/><rect x="1418.99" y="503" width="12.6" height="12" fill="#d8dadc"/><rect x="1431.32" y="503" width="12.6" height="12" fill="#ffffff"/><rect x="1443.65" y="503" width="12.6" height="12" fill="#fcfeff"/><rect x="1382.00" y="515" width="12.6" height="13" fill="#c4c4c8"/><rect x="1394.33" y="515" width="12.6" height="13" fill="#f8f4d8"/><rect x="1406.66" y="515" width="12.6" height="13" fill="#a8a8a8"/><rect x="1418.99" y="515" width="12.6" height="13" fill="#d0ccc4"/><rect x="1431.32" y="515" width="12.6" height="13" fill="#88acd4"/><rect x="1443.65" y="515" width="12.6" height="13" fill="#a8b8cc"/><rect x="1231.00" y="566" width="12.6" height="12" fill="#b0c0cc"/><rect x="1243.33" y="566" width="12.6" height="12" fill="#d0d4d6"/><rect x="1255.66" y="566" width="12.6" height="12" fill="#d6d2ce"/><rect x="1267.99" y="566" width="12.6" height="12" fill="#ccc4b8"/><rect x="1280.32" y="566" width="12.6" height="12" fill="#a88878"/><rect x="1292.65" y="566" width="12.6" height="12" fill="#8c9cb0"/><rect x="1382.00" y="565" width="12.6" height="12" fill="#d4dce4"/><rect x="1394.33" y="565" width="12.6" height="12" fill="#e8e8d8"/><rect x="1406.66" y="565" width="12.6" height="12" fill="#c8bcbc"/><rect x="1418.99" y="565" width="12.6" height="12" fill="#b4c8dc"/><rect x="1431.32" y="565" width="12.6" height="12" fill="#c8dae8"/><rect x="1443.65" y="565" width="12.6" height="12" fill="#d4e0e8"/><rect x="1231.00" y="615" width="12.6" height="13" fill="#b0b4b8"/><rect x="1243.33" y="615" width="12.6" height="13" fill="#f4fcfc"/><rect x="1255.66" y="615" width="12.6" height="13" fill="#b8b4ac"/><rect x="1267.99" y="615" width="12.6" height="13" fill="#d8ceb8"/><rect x="1280.32" y="615" width="12.6" height="13" fill="#bc9a7c"/><rect x="1292.65" y="615" width="12.6" height="13" fill="#8490a0"/><rect x="1382.00" y="614" width="12.6" height="13" fill="#dce8f4"/><rect x="1394.33" y="614" width="12.6" height="13" fill="#f0ead0"/><rect x="1406.66" y="614" width="12.6" height="13" fill="#d4ccc8"/><rect x="1418.99" y="614" width="12.6" height="13" fill="#bcc8d4"/><rect x="1431.32" y="614" width="12.6" height="13" fill="#88b4e0"/><rect x="1443.65" y="614" width="12.6" height="13" fill="#d4e6f4"/></svg>
<div class="t " style="left:904px;top:677.14px;font-size:14.4px;line-height:19px;color:#1a1a1a;">Rows per page:</div>
<div class="a" style="left:1013px;top:670px;width:63px;height:30px;border:1px solid #8c8c8c;border-radius:4px;background:#fff;"></div>
<div class="t " style="left:1020.8px;top:678.20px;font-size:13px;line-height:17px;color:#404040;">20</div>
<svg class="a" style="left:1057px;top:684px;" width="10" height="6" viewBox="0 0 10 6"><path d="M1 1 L5 5 L9 1" fill="none" stroke="#404040" stroke-width="1.5"/></svg>
<div class="t " style="left:1110.2px;top:677.71px;font-size:14.2px;line-height:18px;color:#1a1a1a;">1-7 of 7</div>
<svg class="a" style="left:1194px;top:678px;" width="16" height="16" viewBox="0 0 16 16"><path d="M2.7 2 V14 M13 2.5 L7.5 8 L13 13.5" fill="none" stroke="#666" stroke-width="1.9"/></svg>
<svg class="a" style="left:1219px;top:678px;" width="16" height="16" viewBox="0 0 16 16"><path d="M9.6 2.5 L4 8 L9.6 13.5" fill="none" stroke="#666" stroke-width="1.9"/></svg>
<div class="t " style="left:1246.8px;top:677.84px;font-size:13.8px;line-height:18px;color:#1a1a1a;">Page</div>
<div class="a" style="left:1286px;top:670px;width:28px;height:30px;border:1px solid #8c8c8c;border-radius:4px;background:#fff;"></div>
<div class="t " style="left:1294.5px;top:678.20px;font-size:13px;line-height:17px;color:#404040;">1</div>
<svg class="a" style="left:1329px;top:678px;" width="16" height="16" viewBox="0 0 16 16"><path d="M3.4 2.5 L9 8 L3.4 13.5" fill="none" stroke="#666" stroke-width="1.9"/></svg>
<svg class="a" style="left:1351px;top:678px;" width="16" height="16" viewBox="0 0 16 16"><path d="M3.6 2.5 L9 8 L3.6 13.5 M14.1 2 V14" fill="none" stroke="#666" stroke-width="1.9"/></svg>
<svg class="a" style="left:283px;top:152px;" width="20" height="20" viewBox="0 0 20 20"><circle cx="7.6" cy="7.6" r="5.4" fill="none" stroke="#595959" stroke-width="1.1"/><path d="M11.6 11.6 L16.4 16.4" stroke="#595959" stroke-width="2.2" stroke-linecap="round"/></svg>
<svg class="a" style="left:20px;top:72px;" width="24" height="24" viewBox="0 0 24 24"><path d="M12.6 15.7 H5.4 Q4.2 15.7 4.2 14.5 V5.4 Q4.2 4.2 5.4 4.2 H16.6 Q17.8 4.2 17.8 5.4 V8.7" fill="none" stroke="#404040" stroke-width="1.1"/><path d="M11.5 15.7 V18.4 M9.1 18.4 H14" stroke="#404040" stroke-width="1.1"/><path d="M7.4 7.4 V12.7 M10.4 10.3 V12.7 M13.5 8.2 V9.6" stroke="#404040" stroke-width="1.1"/><circle cx="16.5" cy="13.3" r="3" fill="#fff" stroke="#0a8a3e" stroke-width="1.2"/><path d="M16.5 11.6 V15 M14.8 13.3 H18.2" stroke="#0a8a3e" stroke-width="1.4"/></svg>
<svg class="a" style="left:20px;top:115px;" width="24" height="24" viewBox="0 0 24 24"><path d="M12.1 6 V17.8 M6.2 11.9 H18" stroke="#6e6e6e" stroke-width="1.2"/></svg>
<svg class="a" style="left:20px;top:159px;" width="24" height="24" viewBox="0 0 24 24"><path d="M12 5.6 L13.9 9.3 L18.5 10.1 L15.2 13.3 L15.9 17.6 L12 15.5 L8.1 17.6 L8.8 13.3 L5.5 10.1 L10.1 9.3 Z" fill="none" stroke="#404040" stroke-width="1.15" stroke-linejoin="round"/></svg>
<svg class="a" style="left:20px;top:203px;" width="24" height="24" viewBox="0 0 24 24"><path d="M9.5 19 V6.4 Q9.5 4.4 11.5 4.4 H16.6 Q18.6 4.4 18.6 6.4 V19 L14 15.4 Z" fill="none" stroke="#404040" stroke-width="1.1" stroke-linejoin="round"/><path d="M7.5 6.3 Q5.5 6.5 5.5 8.3 V18.3 L7.5 16.4" fill="none" stroke="#404040" stroke-width="1.1"/></svg>
<svg class="a" style="left:20px;top:247px;" width="24" height="24" viewBox="0 0 24 24"><rect x="5.4" y="4.4" width="13.3" height="14.9" rx="1.5" fill="none" stroke="#404040" stroke-width="1.1"/><path d="M8.4 4.4 V19.3" stroke="#404040" stroke-width="1.1"/><rect x="11.5" y="8.3" width="4.1" height="2.2" fill="none" stroke="#404040" stroke-width="1"/></svg>
<svg class="a" style="left:24px;top:301px;" width="17" height="16" viewBox="0 0 17 16"><rect x="0.6" y="0.6" width="14.8" height="13.9" rx="2" fill="none" stroke="#404040" stroke-width="1.1"/><path d="M5.3 3.5 H15.4" stroke="#404040" stroke-width="1.1"/><path d="M2.3 3.5 H3.9" stroke="#8a8a8a" stroke-width="1.1"/><path d="M7.4 6.4 A2.9 2.9 0 1 0 10.3 9.3 L7.4 9.3 Z" fill="none" stroke="#404040" stroke-width="1.1" stroke-linejoin="round"/><path d="M9 4.9 A3 3 0 0 1 12 7.9 L9 7.9 Z" fill="#0a8a3e"/></svg>
<svg class="a" style="left:20px;top:340px;" width="24" height="24" viewBox="0 0 24 24"><rect x="4.4" y="4.4" width="4.2" height="4.1" rx="0.8" fill="none" stroke="#404040" stroke-width="1.1"/><rect x="4.4" y="15.1" width="4.2" height="4.2" rx="0.8" fill="none" stroke="#404040" stroke-width="1.1"/><path d="M7.6 8.5 L9.3 11.8 L7.6 15.1" fill="none" stroke="#404040" stroke-width="1"/><path d="M9.3 11.8 H12" stroke="#9a9a9a" stroke-width="1.1"/><rect x="12.1" y="8.3" width="7.5" height="7.4" rx="1.1" fill="none" stroke="#8a0c7a" stroke-width="1.2"/><circle cx="14.7" cy="10.9" r="0.95" fill="#8a0c7a"/><circle cx="16.7" cy="12.9" r="0.95" fill="#8a0c7a"/></svg>
<svg class="a" style="left:20px;top:384px;" width="24" height="24" viewBox="0 0 24 24"><path d="M4.4 11.2 V16.2 H6.4 L6.5 19.2 L9.5 16.2 H13.2 V11.8 L12.5 11.2" fill="none" stroke="#8a0c7a" stroke-width="1.2" stroke-linejoin="round"/><path d="M7.2 13.6 Q7.2 11.8 6.4 10.8 Q5.7 9.9 5.9 8.6 Q6.3 6.2 8.3 6.2 Q10.3 6.2 10.7 8.6 Q10.9 9.9 10.2 10.8 Q9.4 11.8 9.4 13.6 Z" fill="none" stroke="#404040" stroke-width="1.05"/><path d="M7 14.6 H9.8" stroke="#404040" stroke-width="1.2"/><path d="M14.1 4.3 H18.9 Q19.7 4.3 19.7 5.1 V8.8 Q19.7 9.6 18.9 9.6 H17.6 L17.4 12.2 L15.2 9.6 H14.1 Q13.3 9.6 13.3 8.8 V5.1 Q13.3 4.3 14.1 4.3 Z" fill="none" stroke="#404040" stroke-width="1.1" stroke-linejoin="round"/></svg>
<svg class="a" style="left:20px;top:428px;" width="24" height="24" viewBox="0 0 24 24"><path d="M9.8 6.8 H17 Q18.3 6.8 18.3 8.1 V10.4 Q18.3 11.7 17 11.7 H8.7 Q7.4 11.7 7.4 13 V15.6 Q7.4 16.9 8.7 16.9 H12.3" fill="none" stroke="#9a9a9a" stroke-width="1.3"/><path d="M11.4 15 L13.2 16.9 L11.4 18.9" fill="none" stroke="#404040" stroke-width="1.1"/><rect x="4.6" y="4.6" width="4.9" height="4.7" rx="1" fill="none" stroke="#0a8a3e" stroke-width="1.2"/><rect x="14.7" y="14.6" width="4.7" height="4.5" rx="1" fill="none" stroke="#404040" stroke-width="1.1"/></svg>
<svg class="a" style="left:20px;top:477px;" width="24" height="24" viewBox="0 0 24 24"><path d="M5.9 6.4 H18 Q19.5 6.4 19.5 7.9 V15.9 Q19.5 17.4 18 17.4 H11.2 L8.4 19.4 V17.4 H5.9 Q4.4 17.4 4.4 15.9 V7.9 Q4.4 6.4 5.9 6.4 Z" fill="none" stroke="#404040" stroke-width="1.1" stroke-linejoin="round"/><path d="M12 9.2 V12.2" stroke="#8a8a8a" stroke-width="1.4"/><path d="M12 13.8 V14.6" stroke="#7a7a7a" stroke-width="1.4"/></svg>
<svg class="a" style="left:20px;top:521px;" width="24" height="24" viewBox="0 0 24 24"><rect x="4.7" y="6.6" width="14.7" height="10.6" rx="1.2" fill="none" stroke="#404040" stroke-width="1.1"/><path d="M5.4 7.3 L10.6 11.8 Q12 12.9 13.4 11.8 L18.7 7.3 M5.4 16.5 L10 12 M18.7 16.5 L14 12" fill="none" stroke="#404040" stroke-width="1.1"/></svg>
<svg class="a" style="left:20px;top:565px;" width="24" height="24" viewBox="0 0 24 24"><path d="M10.6 18.4 H5.8 Q4.5 18.4 4.5 17.1 V6.6 Q4.5 5.3 5.8 5.3 H17.3 Q18.6 5.3 18.6 6.6 V10.3" fill="none" stroke="#404040" stroke-width="1.1"/><path d="M4.5 9.5 H18.6 M7.5 4.3 V6.6 M15.6 4.3 V6.6" stroke="#404040" stroke-width="1.1"/><circle cx="15.6" cy="15.4" r="4.1" fill="#f0f0f0" stroke="#404040" stroke-width="1.1"/><path d="M15.5 13.2 V15.6 L16.7 16.7" fill="none" stroke="#404040" stroke-width="1.05"/></svg>
<svg class="a" style="left:20px;top:614px;" width="24" height="24" viewBox="0 0 24 24"><path d="M12 7.2 Q11.4 6.4 10.2 6.4 H5.9 Q4.4 6.4 4.4 7.9 V15.9 Q4.4 17.4 5.9 17.4 H10.2 Q11.4 17.4 12 18.2 Q12.6 17.4 13.8 17.4 H18.1 Q19.6 17.4 19.6 15.9 V7.9 Q19.6 6.4 18.1 6.4 H13.8 Q12.6 6.4 12 7.2 Z" fill="none" stroke="#404040" stroke-width="1.1" stroke-linejoin="round"/><path d="M12 7.4 V18" stroke="#8a8a8a" stroke-width="1.3"/></svg>
<svg class="a" style="left:16px;top:705px;" width="30" height="30" viewBox="0 0 30 30"><path d="M8.4 14 V21.8" stroke="#404040" stroke-width="1.2"/><path d="M14.7 13.1 L10.5 17.9 L14.7 22.5" fill="none" stroke="#404040" stroke-width="1.1"/><path d="M10.8 17.9 H22.9" stroke="#888" stroke-width="1.3"/></svg>
</body></html>
